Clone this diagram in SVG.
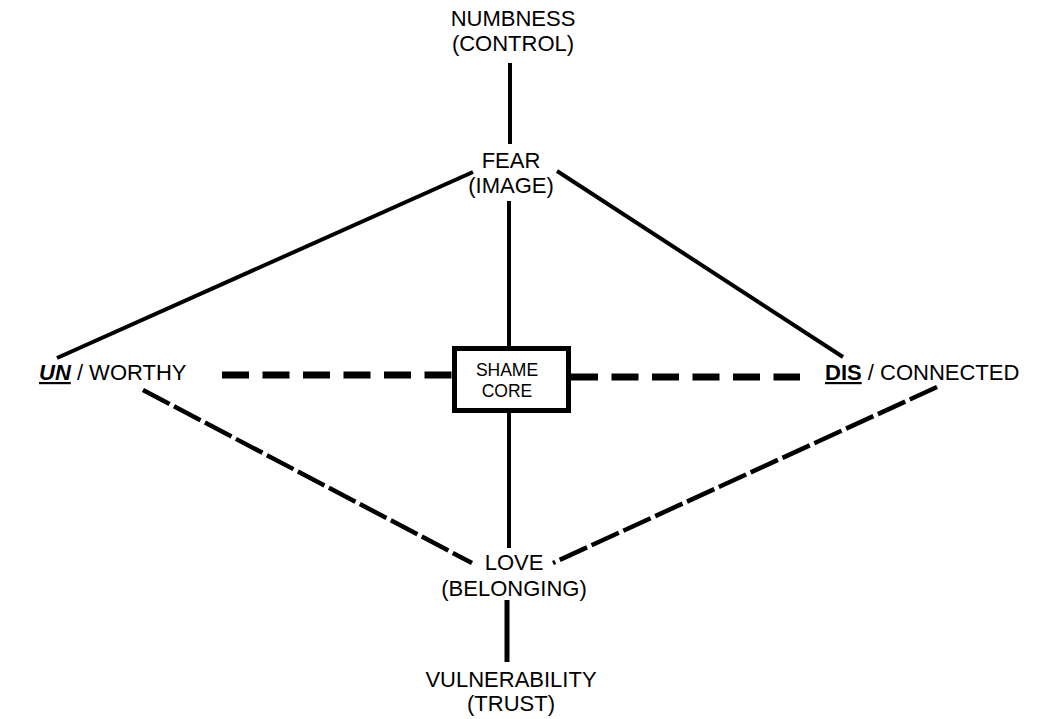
<svg xmlns="http://www.w3.org/2000/svg" width="1057" height="719" viewBox="0 0 1057 719">
<style>
text{font-family:"Liberation Sans",Arial,sans-serif;fill:#000;text-anchor:middle;font-size:22px}
.solid{stroke:#000;stroke-width:4;fill:none}
.thick{stroke:#000;stroke-width:5;fill:none}
.hdash{stroke:#000;stroke-width:7;stroke-dasharray:27 13.5;fill:none}
.ddash{stroke:#000;stroke-width:4.5;stroke-dasharray:30 5;fill:none}
.box{fill:#fff;stroke:#000;stroke-width:5}
.small{font-size:17.5px}
</style>
<rect width="1057" height="719" fill="#fff"/>
<g id="connectors">
<line class="solid" x1="510" y1="63" x2="510" y2="144"/>
<line class="solid" x1="509" y1="201" x2="509" y2="347"/>
<line class="solid" x1="509" y1="412" x2="509" y2="548"/>
<line class="thick" x1="507" y1="600" x2="507" y2="662"/>
<line class="solid" x1="473" y1="172" x2="57" y2="358"/>
<line class="solid" x1="557" y1="171" x2="843" y2="357"/>
<line class="hdash" x1="222" y1="375" x2="452" y2="375"/>
<line class="hdash" x1="571" y1="377" x2="800" y2="377"/>
<line class="ddash" x1="143" y1="390" x2="472" y2="563"/>
<line class="ddash" x1="937" y1="387" x2="553" y2="563"/>
</g>
<g id="numbness">
<text x="513" y="26">NUMBNESS</text>
<text x="513" y="51">(CONTROL)</text>
</g>
<g id="fear">
<text x="511" y="168">FEAR</text>
<text x="511" y="193">(IMAGE)</text>
</g>
<g id="shame-core">
<rect class="box" x="454.5" y="348.5" width="114" height="62"/>
<text class="small" x="507" y="376">SHAME</text>
<text class="small" x="507" y="397">CORE</text>
</g>
<g id="unworthy">
<text x="39" y="380" style="text-anchor:start"><tspan font-weight="bold" font-style="italic" text-decoration="underline">UN</tspan> / WORTHY</text>
</g>
<g id="disconnected">
<text x="825" y="380" style="text-anchor:start"><tspan font-weight="bold" text-decoration="underline">DIS</tspan> / CONNECTED</text>
</g>
<g id="love">
<text x="514" y="570">LOVE</text>
<text x="514" y="596">(BELONGING)</text>
</g>
<g id="vulnerability">
<text x="511" y="687">VULNERABILITY</text>
<text x="511" y="711">(TRUST)</text>
</g>
</svg>
